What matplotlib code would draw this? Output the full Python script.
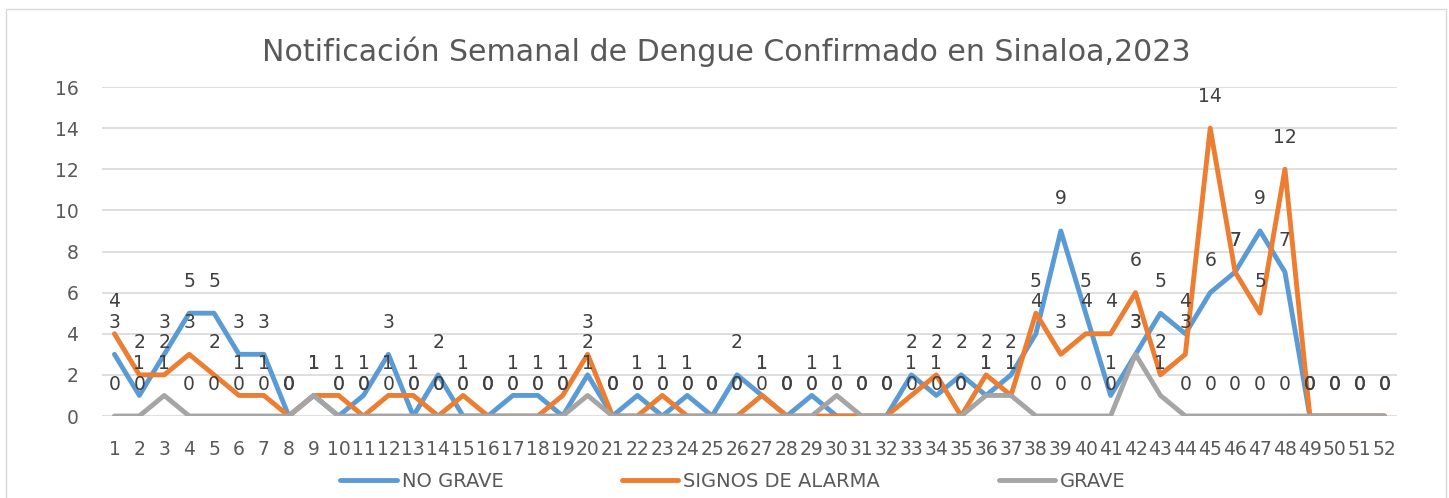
import matplotlib
matplotlib.use("Agg")
import matplotlib.pyplot as plt
from matplotlib.patches import Rectangle
from matplotlib.lines import Line2D

plt.rcParams['font.family'] = ['DejaVu Sans']

weeks = list(range(1, 53))
week_labels = [str(w) for w in weeks]

no_grave = [3, 1, 3, 5, 5, 3, 3, 0, 1, 0, 1, 3, 0, 2, 0, 0, 1, 1, 0, 2,
            0, 1, 0, 1, 0, 2, 1, 0, 1, 0, 0, 0, 2, 1, 2, 1, 2, 4, 9, 5,
            1, 3, 5, 4, 6, 7, 9, 7, 0, 0, 0, 0]
signos_alarma = [4, 2, 2, 3, 2, 1, 1, 0, 1, 1, 0, 1, 1, 0, 1, 0, 0, 0, 1, 3,
                 0, 0, 1, 0, 0, 0, 1, 0, 0, 0, 0, 0, 1, 2, 0, 2, 1, 5, 3, 4,
                 4, 6, 2, 3, 14, 7, 5, 12, 0, 0, 0, 0]
grave = [0, 0, 1, 0, 0, 0, 0, 0, 1, 0, 0, 0, 0, 0, 0, 0, 0, 0, 0, 1,
         0, 0, 0, 0, 0, 0, 0, 0, 0, 1, 0, 0, 0, 0, 0, 1, 1, 0, 0, 0,
         0, 3, 1, 0, 0, 0, 0, 0, 0, 0, 0, 0]

series = [("NO GRAVE", no_grave, "#5B9BD5"),
          ("SIGNOS DE ALARMA", signos_alarma, "#ED7D31"),
          ("GRAVE", grave, "#A5A5A5")]

W, H = 1449, 498
fig = plt.figure(figsize=(W / 100, H / 100), dpi=100)
fig.patch.set_facecolor("white")
fig.patches.append(Rectangle((6 / W, -0.02), 1440 / W, 1 - 9 / H + 0.02,
                             transform=fig.transFigure, fill=False,
                             edgecolor="#D9D9D9", linewidth=1.0))

ax = fig.add_axes([102 / W, 1 - 416 / H, 1295 / W, 329 / H])
for name, vals, col in series:
    ax.plot(weeks, vals, color=col, linewidth=3.5, label=name,
            solid_joinstyle="round", solid_capstyle="round")

for name, vals, col in series:
    for w, v in zip(weeks, vals):
        ax.annotate(str(v), (w, v), xytext=(0, 32), textcoords="offset pixels",
                    ha="center", va="center", fontsize=13.5, color="#404040")

ax.set_xlim(0.5, 52.5)
ax.set_ylim(0, 16)
ax.set_yticks(range(0, 17, 2))
ax.set_xticks(weeks)
ax.set_xticklabels(week_labels)
ax.grid(axis="y", color="#D9D9D9", linewidth=1.2)
ax.set_axisbelow(True)
for s in ax.spines.values():
    s.set_visible(False)
ax.tick_params(axis="both", length=0, labelsize=13.5, colors="#595959")
ax.tick_params(axis="x", pad=17)
ax.tick_params(axis="y", pad=17)

fig.text(726 / W, 1 - 52 / H, "Notificación Semanal de Dengue Confirmado en Sinaloa,2023",
         ha="center", va="center", fontsize=21.6, color="#595959")

handles = [Line2D([], [], color=c, linewidth=3.5, solid_capstyle="round") for _, _, c in series]
fig.legend(handles, [n for n, _, _ in series], loc="center", ncol=3,
           bbox_to_anchor=(733 / W, 1 - 481 / H), frameon=False, fontsize=14,
           labelcolor="#595959", handlelength=2.9, handletextpad=0.26,
           columnspacing=6.1, borderpad=0, borderaxespad=0)

fig.savefig("out.png", dpi=100, facecolor="white")
